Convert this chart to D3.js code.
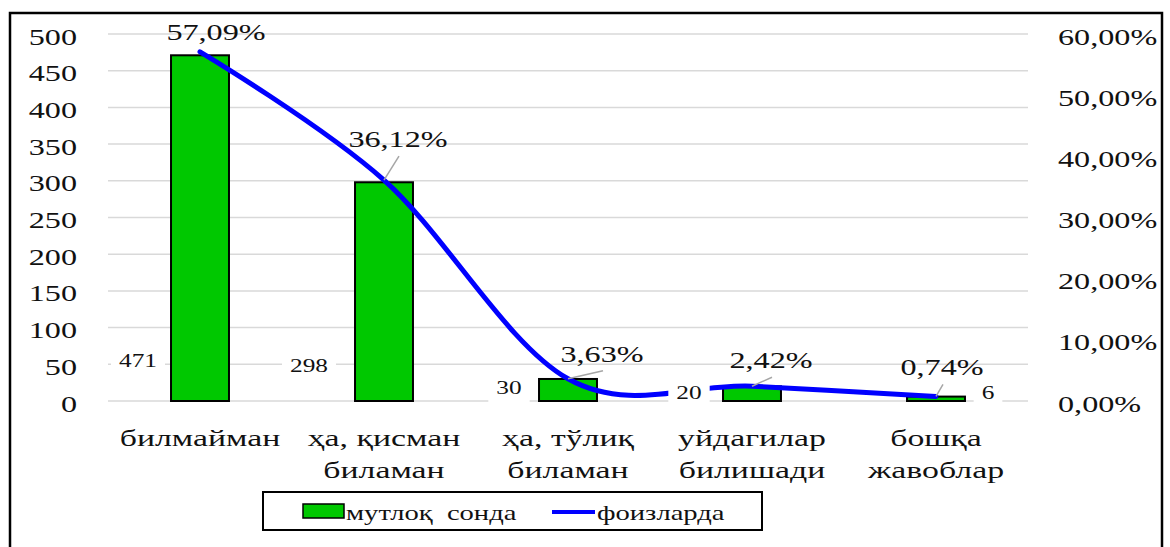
<!DOCTYPE html>
<html lang="uz">
<head>
    <meta charset="UTF-8">
    <title>мутлоқ сонда / фоизларда</title>
    <script src="https://d3js.org/d3.v7.min.js"></script>
    <style>
        body { margin: 0; background: #fff; }
    </style>
</head>
<body>
    <svg id="chart" width="1170" height="547"></svg>

    <script>
        // Chart data
        const categories = [
            ['билмайман'],
            ['ҳа, қисман', 'биламан'],
            ['ҳа, тўлиқ', 'биламан'],
            ['уйдагилар', 'билишади'],
            ['бошқа', 'жавоблар']
        ];
        const counts = [471, 298, 30, 20, 6];
        const percents = [0.5709, 0.3612, 0.0363, 0.0242, 0.0074];
        const leftTicks = [0, 50, 100, 150, 200, 250, 300, 350, 400, 450, 500];
        const rightTicks = [0, 0.1, 0.2, 0.3, 0.4, 0.5, 0.6];
        const seriesNames = ['мутлоқ  сонда', 'фоизларда'];

        // label nudges (dx, dy) - Excel labels were dragged around by hand
        const pctNudge = [[16, -12], [14, -33], [34, -17], [19, -18], [6, -21]];
        const countNudge = [[-62, -41], [-75, -36], [-59, -14], [-63, -9], [52, -9]];

        const FONT = '"Liberation Serif", "Times New Roman", Times, "DejaVu Serif", serif';
        const SX = 1.4; // the picture is stretched horizontally
        const plot = { left: 108, right: 1028, top: 34, bottom: 401 };

        const svg = d3.select('#chart');

        // outer frame
        svg.append('rect')
            .attr('x', 10).attr('y', 13)
            .attr('width', 1152).attr('height', 545)
            .attr('fill', 'none')
            .attr('stroke', '#000')
            .attr('stroke-width', 2.5);

        const idx = categories.map((d, i) => i);
        const x = d3.scaleBand()
            .domain(idx)
            .range([plot.left, plot.right])
            .paddingInner(0.685)
            .paddingOuter(0.3425);

        const yLeft = d3.scaleLinear().domain([0, 500]).range([plot.bottom, plot.top]);
        const yRight = d3.scaleLinear().domain([0, 0.6]).range([plot.bottom, plot.top]);

        // stretched text helper
        function putText(g, tx, ty, str, size, anchor, sx) {
            return g.append('text')
                .attr('transform', `translate(${tx},${ty}) scale(${sx || SX},1)`)
                .attr('text-anchor', anchor || 'middle')
                .attr('font-family', FONT)
                .attr('font-size', size)
                .attr('fill', '#111')
                .text(str);
        }

        // gridlines
        svg.append('g')
            .selectAll('line')
            .data(leftTicks)
            .enter()
            .append('line')
            .attr('x1', plot.left).attr('x2', plot.right)
            .attr('y1', d => yLeft(d)).attr('y2', d => yLeft(d))
            .attr('stroke', '#d9d9d9')
            .attr('stroke-width', 1.5);

        // left axis
        const axL = svg.append('g')
            .attr('transform', 'translate(77,2)')
            .call(d3.axisLeft(yLeft).tickValues(leftTicks).tickSize(0).tickPadding(0).tickFormat(d3.format('d')));
        axL.attr('font-family', FONT).attr('font-size', 23);
        axL.select('.domain').remove();
        axL.selectAll('text')
            .attr('x', 0).attr('dy', '0.35em')
            .attr('transform', `scale(${SX},1)`)
            .attr('fill', '#111');

        // right axis
        const fmtPct = d => (d * 100).toFixed(2).replace('.', ',') + '%';
        const axR = svg.append('g')
            .attr('transform', 'translate(1058,2)')
            .call(d3.axisRight(yRight).tickValues(rightTicks).tickSize(0).tickPadding(0).tickFormat(fmtPct));
        axR.attr('font-family', FONT).attr('font-size', 23);
        axR.select('.domain').remove();
        axR.selectAll('text')
            .attr('x', 0).attr('dy', '0.35em')
            .attr('transform', `scale(${SX},1)`)
            .attr('fill', '#111');

        // bars
        svg.append('g')
            .selectAll('rect')
            .data(counts)
            .enter()
            .append('rect')
            .attr('x', (d, i) => x(i))
            .attr('y', d => yLeft(d))
            .attr('width', x.bandwidth())
            .attr('height', d => yLeft(0) - yLeft(d))
            .attr('fill', '#00c800')
            .attr('stroke', '#000')
            .attr('stroke-width', 2);

        // percent line
        const cx = i => x(i) + x.bandwidth() / 2;
        const line = d3.line()
            .x((d, i) => cx(i))
            .y(d => yRight(d))
            .curve(d3.curveCardinal.tension(0));

        svg.append('path')
            .datum(percents)
            .attr('d', line)
            .attr('fill', 'none')
            .attr('stroke', '#0000ff')
            .attr('stroke-width', 5)
            .attr('stroke-linecap', 'round');

        // percent labels + leader lines
        const pctG = svg.append('g');
        percents.forEach((p, i) => {
            const px = cx(i), py = yRight(p);
            const lx = px + pctNudge[i][0], ly = py + pctNudge[i][1];
            if (i > 0) {
                pctG.append('line')
                    .attr('x1', lx + 1).attr('y1', ly + 9)
                    .attr('x2', px).attr('y2', py)
                    .attr('stroke', '#a6a6a6')
                    .attr('stroke-width', 1.5);
            }
            putText(pctG, lx, ly, fmtPct(p), 23, 'middle');
        });

        // count labels with white boxes (they cover the grid and the line)
        const cntG = svg.append('g');
        counts.forEach((c, i) => {
            const lx = cx(i) + countNudge[i][0];
            const ly = yLeft(0) + countNudge[i][1];
            const w = String(c).length * 9.75 * 1.3 + 16;
            cntG.append('rect')
                .attr('x', lx - w / 2).attr('y', ly - 15)
                .attr('width', w).attr('height', 30)
                .attr('fill', '#fff');
            putText(cntG, lx, ly + 6.5, c, 19.5, 'middle', 1.3);
        });

        // category labels
        const catG = svg.append('g');
        categories.forEach((lines, i) => {
            lines.forEach((t, k) => {
                putText(catG, cx(i), 446 + k * 32, t, 23, 'middle', 1.47);
            });
        });

        // legend
        const leg = svg.append('g');
        leg.append('rect')
            .attr('x', 263).attr('y', 492)
            .attr('width', 499).attr('height', 38)
            .attr('fill', '#fff')
            .attr('stroke', '#000')
            .attr('stroke-width', 2);
        leg.append('rect')
            .attr('x', 303).attr('y', 504)
            .attr('width', 41).attr('height', 14)
            .attr('fill', '#00c800')
            .attr('stroke', '#000')
            .attr('stroke-width', 1.5);
        putText(leg, 346, 520, seriesNames[0], 22, 'start', 1.3).style('white-space', 'pre');
        leg.append('line')
            .attr('x1', 552).attr('x2', 595)
            .attr('y1', 512).attr('y2', 512)
            .attr('stroke', '#0000ff')
            .attr('stroke-width', 4);
        putText(leg, 597, 520, seriesNames[1], 22, 'start', 1.3);
    </script>
</body>
</html>
